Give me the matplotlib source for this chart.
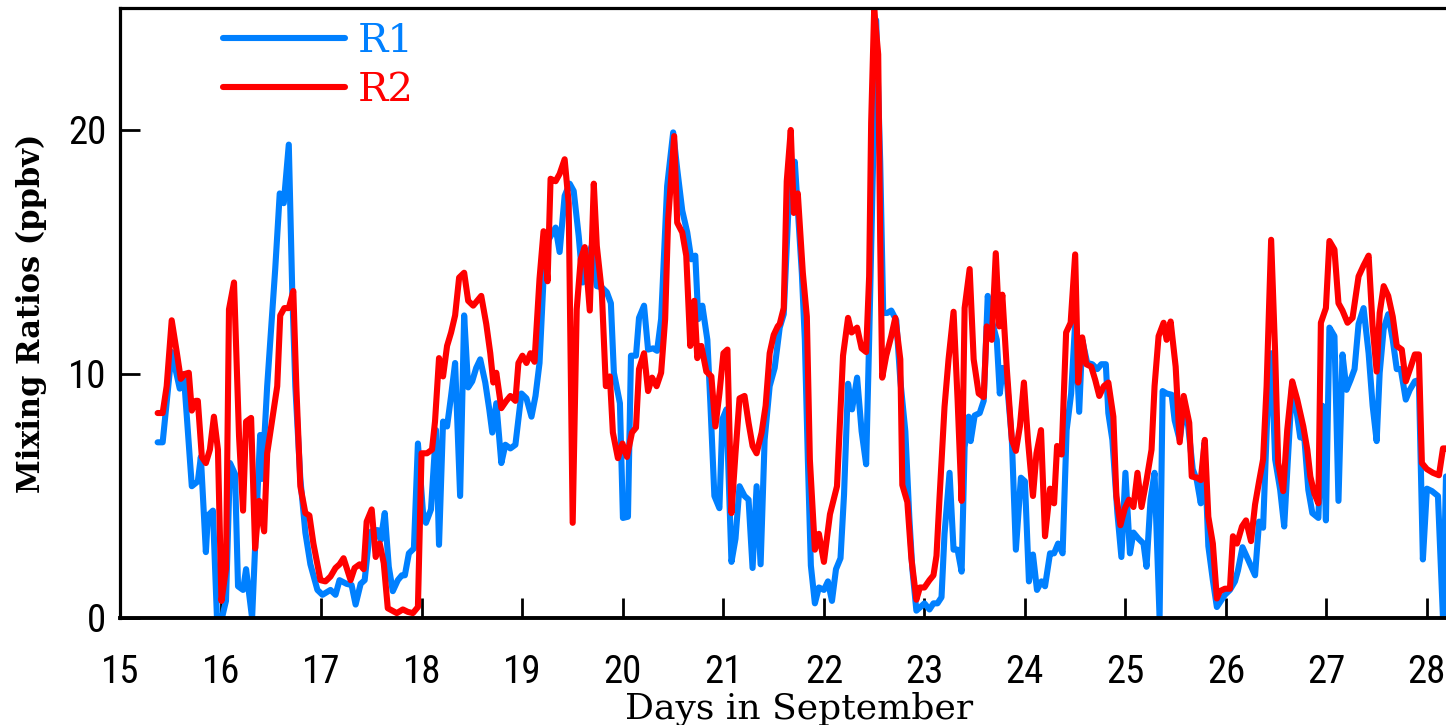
import matplotlib
matplotlib.use("Agg")
import matplotlib.pyplot as plt
from matplotlib import font_manager

# ---- data: mixing ratios (ppbv) vs. day of September ----
r1_days = [15.37, 15.42, 15.51, 15.59, 15.63, 15.71, 15.77, 15.80, 15.85, 15.87, 15.92, 15.96, 16.01, 16.05,
           16.09, 16.14, 16.17, 16.22, 16.25, 16.31, 16.34, 16.39, 16.41, 16.46, 16.51, 16.54, 16.585, 16.625,
           16.675, 16.71, 16.74, 16.79, 16.84, 16.89, 16.96, 17.01, 17.09, 17.14, 17.18, 17.25, 17.30, 17.34,
           17.39, 17.43, 17.48, 17.52, 17.56, 17.59, 17.63, 17.67, 17.71, 17.76, 17.80, 17.83, 17.87, 17.92,
           17.96, 18.01, 18.04, 18.09, 18.14, 18.17, 18.21, 18.25, 18.29, 18.33, 18.38, 18.42, 18.46, 18.50,
           18.54, 18.58, 18.63, 18.67, 18.70, 18.74, 18.79, 18.83, 18.88, 18.93, 18.99, 19.04, 19.09, 19.13,
           19.17, 19.21, 19.26, 19.33, 19.37, 19.42, 19.47, 19.51, 19.56, 19.60, 19.64, 19.69, 19.74, 19.79,
           19.84, 19.88, 19.91, 19.97, 20.00, 20.05, 20.08, 20.13, 20.16, 20.21, 20.25, 20.30, 20.34, 20.38,
           20.44, 20.50, 20.54, 20.59, 20.64, 20.68, 20.72, 20.75, 20.79, 20.84, 20.87, 20.91, 20.96, 20.99,
           21.03, 21.08, 21.12, 21.16, 21.21, 21.25, 21.29, 21.33, 21.37, 21.41, 21.46, 21.51, 21.56, 21.60,
           21.645, 21.68, 21.71, 21.74, 21.78, 21.81, 21.84, 21.87, 21.91, 21.95, 22.00, 22.04, 22.08, 22.12,
           22.165, 22.20, 22.24, 22.28, 22.33, 22.375, 22.42, 22.45, 22.49, 22.52, 22.56, 22.59, 22.63, 22.67,
           22.72, 22.76, 22.81, 22.85, 22.88, 22.92, 22.96, 23.00, 23.05, 23.09, 23.13, 23.17, 23.20, 23.25,
           23.29, 23.33, 23.37, 23.40, 23.44, 23.46, 23.50, 23.55, 23.59, 23.63, 23.67, 23.72, 23.75, 23.78,
           23.82, 23.87, 23.91, 23.96, 24.00, 24.04, 24.08, 24.12, 24.165, 24.20, 24.25, 24.29, 24.33, 24.375,
           24.415, 24.46, 24.50, 24.54, 24.57, 24.62, 24.67, 24.72, 24.76, 24.805, 24.83, 24.87, 24.92, 24.96,
           25.00, 25.045, 25.08, 25.13, 25.18, 25.21, 25.25, 25.29, 25.34, 25.37, 25.41, 25.46, 25.49, 25.54,
           25.585, 25.625, 25.67, 25.71, 25.75, 25.785, 25.825, 25.87, 25.91, 25.99, 26.04, 26.09, 26.12,
           26.165, 26.22, 26.29, 26.33, 26.37, 26.41, 26.45, 26.49, 26.54, 26.58, 26.62, 26.66, 26.70, 26.74,
           26.78, 26.82, 26.86, 26.92, 26.96, 26.995, 27.03, 27.08, 27.12, 27.16, 27.20, 27.24, 27.28, 27.32,
           27.37, 27.42, 27.46, 27.50, 27.53, 27.57, 27.615, 27.66, 27.70, 27.74, 27.79, 27.83, 27.88, 27.92,
           27.96, 28.00, 28.05, 28.11, 28.16, 28.19]
r1_vals = [7.2, 7.2, 10.9, 9.4, 10.0, 5.4, 5.6, 6.6, 2.7, 4.2, 4.4, 0.05, 0.0, 0.7,
           6.35, 5.9, 1.3, 1.15, 2.0, 0.0, 2.9, 7.5, 5.7, 9.5, 12.5, 14.3, 17.4, 17.0,
           19.4, 13.3, 9.5, 5.7, 3.5, 2.2, 1.15, 0.95, 1.15, 0.95, 1.55, 1.4, 1.35, 0.55,
           1.4, 1.55, 3.5, 3.6, 3.6, 3.2, 4.3, 2.1, 1.1, 1.55, 1.75, 1.75, 2.65, 2.85,
           7.15, 4.35, 3.9, 4.45, 7.7, 3.0, 8.05, 7.85, 9.1, 10.45, 5.0, 12.4, 9.45, 9.7,
           10.25, 10.6, 9.65, 8.55, 7.6, 8.8, 6.35, 7.1, 6.95, 7.1, 9.2, 9.0, 8.25, 9.1,
           10.45, 13.9, 15.5, 16.0, 15.0, 17.3, 17.8, 17.5, 15.65, 13.75, 14.7, 15.25, 13.6, 13.55,
           13.35, 12.9, 10.05, 8.8, 4.1, 4.15, 10.75, 10.75, 12.3, 12.8, 11.0, 11.05, 10.95, 12.25,
           17.7, 19.9, 18.4, 16.7, 15.8, 14.7, 14.85, 12.25, 12.8, 11.4, 8.8, 5.0, 4.5, 8.15,
           8.55, 2.3, 3.25, 5.4, 5.0, 4.85, 2.05, 5.4, 2.2, 7.3, 9.5, 10.25, 11.9, 12.45,
           16.6, 18.05, 18.7, 16.75, 14.15, 11.4, 6.5, 2.15, 0.6, 1.25, 1.15, 1.5, 0.7, 2.0,
           2.45, 5.05, 9.6, 8.55, 9.85, 7.65, 6.3, 11.4, 19.0, 24.5, 18.7, 12.5, 12.5, 12.6,
           12.2, 9.75, 7.65, 4.1, 2.0, 0.3, 0.45, 0.6, 0.35, 0.6, 0.6, 0.85, 3.45, 5.95,
           2.8, 2.8, 1.9, 7.0, 8.25, 7.25, 8.3, 8.4, 8.9, 13.2, 12.2, 11.4, 9.2, 10.25,
           9.75, 7.3, 2.8, 5.75, 5.6, 1.5, 2.6, 1.15, 1.5, 1.3, 2.65, 2.65, 3.05, 2.65,
           7.7, 9.2, 12.1, 8.45, 11.4, 10.45, 10.4, 10.2, 10.4, 10.4, 8.4, 7.3, 4.3, 2.5,
           5.95, 2.65, 3.5, 3.25, 3.05, 2.1, 4.85, 5.95, 0.0, 9.3, 9.2, 9.15, 8.1, 7.3,
           8.7, 7.85, 6.1, 5.65, 4.7, 7.15, 2.95, 1.55, 0.45, 0.95, 1.15, 1.5, 1.95,
           2.9, 2.4, 1.75, 3.95, 3.7, 8.15, 10.85, 6.5, 5.25, 3.75, 6.75, 9.65, 8.55, 7.4,
           7.4, 5.25, 4.3, 4.1, 8.7, 4.0, 11.9, 11.55, 4.8, 10.8, 9.35, 9.75, 10.2, 12.05,
           12.7, 10.85, 8.7, 7.25, 10.05, 11.85, 12.45, 11.4, 10.2, 10.2, 8.95, 9.35, 9.7, 9.75,
           2.4, 5.3, 5.2, 5.0, 0.0, 5.8]

r2_days = [15.37, 15.42, 15.46, 15.51, 15.56, 15.60, 15.64, 15.68, 15.71, 15.75, 15.77, 15.81, 15.85, 15.89,
           15.93, 15.97, 16.005, 16.05, 16.08, 16.13, 16.18, 16.22, 16.25, 16.30, 16.34, 16.38, 16.43, 16.46,
           16.52, 16.56, 16.59, 16.63, 16.675, 16.72, 16.75, 16.79, 16.84, 16.88, 16.92, 16.99, 17.04, 17.09,
           17.14, 17.18, 17.22, 17.29, 17.33, 17.38, 17.42, 17.45, 17.50, 17.54, 17.58, 17.62, 17.66, 17.75,
           17.81, 17.86, 17.91, 17.96, 17.996, 18.05, 18.10, 18.13, 18.17, 18.21, 18.25, 18.29, 18.33, 18.37,
           18.42, 18.46, 18.51, 18.55, 18.59, 18.64, 18.68, 18.71, 18.74, 18.79, 18.84, 18.88, 18.93, 18.96,
           19.00, 19.04, 19.08, 19.12, 19.17, 19.21, 19.25, 19.28, 19.33, 19.37, 19.42, 19.46, 19.50, 19.54,
           19.58, 19.62, 19.67, 19.71, 19.74, 19.79, 19.83, 19.87, 19.90, 19.95, 19.995, 20.04, 20.09, 20.13,
           20.16, 20.21, 20.25, 20.29, 20.335, 20.38, 20.42, 20.45, 20.51, 20.54, 20.59, 20.63, 20.67, 20.71,
           20.74, 20.78, 20.83, 20.88, 20.92, 20.96, 21.00, 21.04, 21.08, 21.12, 21.16, 21.21, 21.25, 21.29,
           21.33, 21.38, 21.42, 21.46, 21.50, 21.54, 21.56, 21.60, 21.63, 21.67, 21.70, 21.74, 21.79, 21.83,
           21.86, 21.91, 21.95, 22.00, 22.06, 22.13, 22.19, 22.24, 22.275, 22.33, 22.375, 22.42, 22.45, 22.47,
           22.50, 22.54, 22.56, 22.58, 22.62, 22.67, 22.71, 22.76, 22.78, 22.83, 22.87, 22.92, 22.955, 23.00,
           23.05, 23.09, 23.12, 23.15, 23.20, 23.24, 23.29, 23.33, 23.37, 23.40, 23.45, 23.49, 23.54, 23.59,
           23.62, 23.67, 23.71, 23.745, 23.775, 23.82, 23.87, 23.91, 23.95, 23.99, 24.03, 24.08, 24.115, 24.16,
           24.20, 24.25, 24.29, 24.32, 24.365, 24.41, 24.455, 24.50, 24.53, 24.57, 24.61, 24.66, 24.70, 24.74,
           24.785, 24.83, 24.88, 24.91, 24.95, 24.995, 25.035, 25.08, 25.12, 25.16, 25.21, 25.26, 25.29, 25.33,
           25.38, 25.41, 25.45, 25.50, 25.54, 25.58, 25.635, 25.66, 25.71, 25.75, 25.79, 25.825, 25.87, 25.91,
           25.94, 25.99, 26.04, 26.07, 26.11, 26.16, 26.20, 26.25, 26.29, 26.33, 26.37, 26.405, 26.45, 26.49,
           26.52, 26.57, 26.61, 26.66, 26.71, 26.77, 26.81, 26.84, 26.88, 26.92, 26.945, 26.995, 27.03, 27.08,
           27.12, 27.16, 27.21, 27.26, 27.32, 27.37, 27.42, 27.46, 27.50, 27.53, 27.57, 27.615, 27.66, 27.70,
           27.75, 27.79, 27.84, 27.88, 27.92, 27.95, 28.00, 28.06, 28.12, 28.16, 28.19]
r2_vals = [8.4, 8.4, 9.5, 12.2, 10.9, 9.8, 10.0, 10.05, 8.5, 8.9, 8.9, 6.6, 6.35, 6.9,
           8.25, 6.9, 0.7, 2.0, 12.65, 13.75, 7.45, 4.4, 8.05, 8.2, 2.85, 4.8, 3.55, 6.75,
           8.4, 9.5, 12.4, 12.7, 12.7, 13.4, 9.5, 5.4, 4.3, 4.2, 3.05, 1.55, 1.5, 1.7,
           2.05, 2.2, 2.45, 1.55, 2.05, 2.2, 2.0, 3.95, 4.45, 2.5, 3.05, 2.25, 0.4, 0.2,
           0.35, 0.25, 0.2, 0.45, 6.75, 6.75, 6.9, 8.05, 10.65, 9.9, 11.15, 11.7, 12.4, 13.95,
           14.15, 13.0, 12.8, 13.0, 13.2, 12.05, 10.85, 9.65, 10.05, 8.6, 8.9, 9.1, 8.9, 10.45,
           10.75, 10.45, 10.85, 10.5, 13.9, 15.85, 13.8, 18.0, 17.9, 18.2, 18.8, 17.0, 3.9, 12.65,
           14.7, 15.2, 12.6, 17.8, 15.25, 13.35, 9.5, 9.9, 7.6, 6.55, 7.15, 6.6, 7.6, 7.8,
           10.2, 10.85, 9.3, 9.85, 9.5, 10.05, 12.25, 16.35, 19.75, 16.2, 15.8, 14.85, 11.15, 13.0,
           10.65, 11.15, 10.1, 9.9, 7.85, 9.2, 10.85, 11.0, 4.3, 6.75, 9.0, 9.1, 8.0, 7.05,
           6.75, 7.6, 8.7, 10.85, 11.6, 11.95, 12.05, 12.7, 17.9, 20.0, 16.6, 17.4, 14.15, 12.35,
           6.5, 2.8, 3.45, 2.3, 4.25, 5.4, 10.75, 12.3, 11.7, 11.9, 11.05, 10.9, 14.0, 20.3,
           24.95, 23.1, 15.45, 9.85, 10.75, 11.55, 12.3, 10.6, 5.45, 4.75, 2.45, 0.75, 1.25, 1.25,
           1.55, 1.75, 2.55, 4.9, 8.65, 10.6, 12.55, 8.95, 4.8, 12.7, 14.3, 10.6, 9.2, 9.05,
           11.95, 11.4, 14.95, 11.95, 13.25, 10.2, 7.3, 6.85, 7.85, 9.65, 7.3, 5.0, 6.75, 7.7,
           3.35, 5.3, 4.7, 7.05, 6.7, 11.7, 12.1, 14.9, 9.65, 11.5, 10.4, 10.3, 9.75, 9.1,
           9.5, 9.65, 8.25, 5.0, 3.8, 4.5, 4.85, 4.55, 5.95, 4.55, 5.65, 6.9, 9.5, 11.55,
           12.1, 11.4, 12.15, 10.3, 7.2, 9.1, 8.0, 5.8, 5.75, 5.65, 7.3, 4.15, 3.05, 0.8,
           1.1, 1.2, 1.2, 3.35, 3.05, 3.75, 4.0, 3.15, 4.65, 5.6, 6.5, 9.5, 15.5, 10.85,
           6.35, 5.2, 7.7, 9.7, 8.95, 7.85, 6.9, 5.8, 5.1, 4.7, 12.1, 12.7, 15.45, 15.1,
           12.9, 12.6, 12.1, 12.3, 14.0, 14.45, 14.85, 11.95, 10.1, 12.5, 13.6, 13.2, 12.35, 11.15,
           11.0, 9.7, 10.3, 10.8, 10.8, 6.35, 6.1, 5.95, 5.85, 6.95, 6.95]

series_labels = ["R1", "R2"]
series_colors = ["#0080ff", "#ff0000"]
x_ticks = list(range(15, 29))
y_ticks = [0, 10, 20]


def pick_font(candidates):
    names = {f.name for f in font_manager.fontManager.ttflist}
    for c in candidates:
        if c in names:
            return c
    return "DejaVu Sans"


tick_font = pick_font(["Liberation Sans Narrow", "Roboto Condensed", "Liberation Sans", "DejaVu Sans"])
label_font = "DejaVu Serif"

fig = plt.figure(figsize=(14.46, 7.25), dpi=100)
ax = fig.add_axes([0.0833, 0.1476, 0.9167, 0.8414])

for days, vals, lab, col in zip([r1_days, r2_days], [r1_vals, r2_vals], series_labels, series_colors):
    ax.plot(days, vals, color=col, lw=4.4, label=lab,
            solid_joinstyle="round", solid_capstyle="round")

ax.set_xlim(15, 28.19)
ax.set_ylim(0, 25)
ax.set_xticks(x_ticks)
ax.set_yticks(y_ticks)
ax.tick_params(direction="in", length=14.5, width=2.0, color="black")
ax.tick_params(axis="x", pad=26)
ax.tick_params(axis="y", pad=10)
for lbl in ax.get_xticklabels() + ax.get_yticklabels():
    lbl.set_fontfamily(tick_font)
    lbl.set_fontsize(28)

for side in ["left", "top"]:
    ax.spines[side].set_linewidth(2.3)
ax.spines["bottom"].set_linewidth(2.8)
ax.spines["right"].set_visible(False)

ax.set_ylabel("Mixing Ratios (ppbv)", fontfamily=label_font, fontweight="bold", fontsize=22)
ax.yaxis.set_label_coords(-0.0555, 0.5)
ax.set_xlabel("Days in September", fontfamily=label_font, fontsize=26)
ax.xaxis.set_label_coords(0.512, -0.121)

leg = ax.legend(loc="upper left", bbox_to_anchor=(0.0773, 0.975), frameon=False,
                handlelength=3.03, handletextpad=0.32, labelspacing=0.29,
                borderpad=0, borderaxespad=0, labelcolor="linecolor",
                prop={"family": label_font, "size": 29})

fig.savefig("out.png", dpi=100)
